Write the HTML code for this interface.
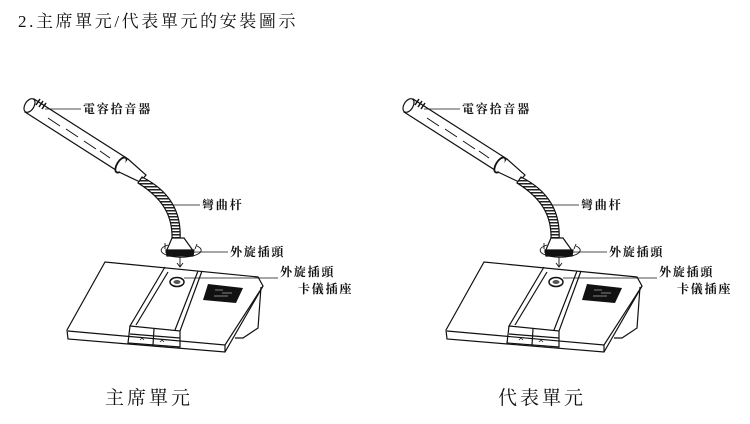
<!DOCTYPE html>
<html><head><meta charset="utf-8"><style>
body{margin:0;background:#fff;width:750px;height:424px;overflow:hidden;font-family:"Liberation Serif","Noto Serif CJK SC",serif}
svg{position:absolute;left:0;top:0}
</style></head><body>
<svg width="750" height="424" viewBox="0 0 750 424" xmlns="http://www.w3.org/2000/svg">
<defs>
<pattern id="coil" width="3" height="3" patternUnits="userSpaceOnUse"><rect width="3" height="3" fill="#fff"/><rect width="3" height="1.5" fill="#222"/></pattern>
<g id="unit" fill="none" stroke="#111" stroke-width="1.2">
 <path d="M25,112 L119,172 L128,159 L34,99 Z" fill="#fff"/>
 <ellipse cx="29.5" cy="105.5" rx="4.5" ry="7.5" transform="rotate(32 29.5 105.5)" fill="#fff"/>
 <path d="M36,105 l4,-6 M39,107 l4,-6 M42,109 l4,-6" stroke-width="1.5"/>
 <path d="M48,118 l12,8 M66,129 l12,8 M84,141 l12,8 M100,151 l10,7" stroke-width="1"/>
 <ellipse cx="121" cy="165" rx="4" ry="8.5" transform="rotate(32 121 165)" fill="#fff" stroke-width="1.8"/>
 <path d="M119,172 L140,182 L146,175 L128,159" fill="#fff"/>
 <path d="M142,177 C168,190 182,210 180,240 L172,240 C173,215 162,198 138,183 Z" fill="url(#coil)"/>
 <path d="M172,238 L184,238 L194,252 L166,252 Z" fill="#fff"/>
 <path d="M166,250 L194,250 L193,256 L167,256 Z" fill="#111"/>
 <path d="M168,245 A20,7 0 1 0 197,246" stroke-width="0.9"/>
 <path d="M165,243 l0,6 M197,244 l-2,5" stroke-width="0.9"/>
 <path d="M180,257 L180,266" stroke-width="0.9"/>
 <path d="M177,263 L180,267 L183,263" stroke-width="0.9"/>
 <path d="M67,330 L105,262 L258,277 L263,286 L225,352 L68,339 Z" fill="#fff"/>
 <path d="M68,331 L225,345 L263,286" />
 <path d="M225,345 L225,352"/>
 <path d="M261,287 L258,328 L243,338 L235,338"/>
 <path d="M165,267 L130,326 L180,331 L202,271"/>
 <path d="M168,272 L136,325 M198,271 L175,330"/>
 <path d="M130,326 L128,343 L180,347 L180,331"/>
 <path d="M154,329 L153,345 M130,334 L180,338"/>
 <path d="M140,340 l2,-2 l2,2 M160,342 l2,-2 l2,2" stroke-width="0.7"/>
 <ellipse cx="177" cy="282" rx="7" ry="4.5" fill="#fff" stroke-width="1.5"/>
 <ellipse cx="177" cy="282" rx="3.5" ry="2" fill="#555" stroke="none"/>
 <path d="M208,284 L243,288 L236,303 L203,300 Z" fill="#111" stroke="none"/>
 <path d="M215,290 h8 M222,293 h10 M214,296 h14" stroke="#aaa" stroke-width="0.8"/>
 <g stroke-width="0.8">
 <path d="M45,109 L81,109"/>
 <path d="M173,205 L200,205"/>
 <path d="M195,252 L228,252"/>
 <path d="M184,278 L278,278"/>
 </g>
</g>
</defs>
<text x="18" y="27" font-size="17" fill="#111" letter-spacing="2.6">2.主席單元/代表單元的安裝圖示</text>
<use href="#unit"/>
<use href="#unit" transform="translate(379,0)"/>
<g font-size="12" fill="#111" font-weight="bold" letter-spacing="1.8">
 <text x="83" y="113">電容拾音器</text>
 <text x="202" y="209">彎曲杆</text>
 <text x="230" y="256">外旋插頭</text>
 <text x="280" y="276">外旋插頭</text>
 <text x="298" y="293">卡儀插座</text>
 <text x="462" y="113">電容拾音器</text>
 <text x="581" y="209">彎曲杆</text>
 <text x="609" y="256">外旋插頭</text>
 <text x="659" y="276">外旋插頭</text>
 <text x="677" y="293">卡儀插座</text>
</g>
<text x="105" y="404" font-size="19" fill="#111" letter-spacing="3">主席單元</text>
<text x="498" y="404" font-size="19" fill="#111" letter-spacing="3">代表單元</text>
</svg>
</body></html>
